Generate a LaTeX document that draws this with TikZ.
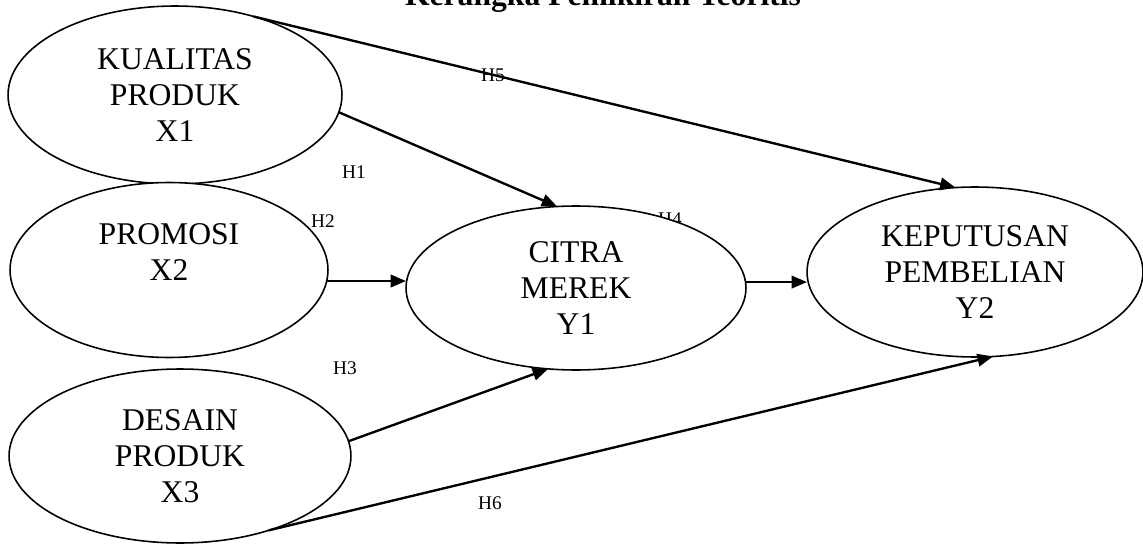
\documentclass[tikz,border=0pt]{standalone}
\usepackage{fontspec}
\setmainfont{Liberation Serif}
\usetikzlibrary{arrows.meta,shapes.geometric}

\begin{document}
\begin{tikzpicture}[x=0.02cm,y=-0.02cm,
    every node/.style={inner sep=0pt,outer sep=0pt},
    var/.style={draw,ellipse,fill=white,line width=0.9pt,align=center,
      font=\fontsize{18}{20.5}\selectfont},
    hlabel/.style={font=\fontsize{11}{13}\selectfont},
    arr/.style={line width=1.35pt,-{Triangle[length=0.31cm,width=0.25cm]}}]
  \useasboundingbox (0,0) rectangle (1143,544);
  \node[font=\fontsize{18}{21}\selectfont\bfseries,anchor=base] (title) at (603,6) {Kerangka Pemikiran Teoritis};
  % labels first, Y1 hides the lower half of H4
  \foreach \h/\x/\y in {H1/354/172,H2/323/221,H3/345/368,H4/670/219,H5/493/75,H6/490/503}
    \node[hlabel] (\h) at (\x,\y) {\h};
  \node[var,minimum width=6.68cm,minimum height=3.56cm] (x1) at (175,95) {KUALITAS\\PRODUK\\X1};
  \node[var,minimum width=6.36cm,minimum height=3.5cm] (x2) at (169,270) {PROMOSI\\X2\\\mbox{}};
  \node[var,minimum width=6.84cm,minimum height=3.48cm] (x3) at (180,456) {DESAIN\\PRODUK\\X3};
  \node[var,minimum width=6.8cm,minimum height=3.28cm] (y1) at (576,288) {CITRA\\MEREK\\Y1};
  \node[var,minimum width=6.72cm,minimum height=3.4cm] (y2) at (975,272) {KEPUTUSAN\\PEMBELIAN\\Y2};
  \draw[arr] (x1.45) -- (y2.103);
  \draw[arr] (x1.-6) -- (y1.103);
  \draw[arr] (x2.-4) -- (x2.-4 -| y1.west);
  \draw[arr] (x3.5) -- (y1.-109);
  \draw[arr] (y1.2) -- (y1.2 -| y2.west);
  \draw[arr] (x3.-40) -- (y2.-78);
\end{tikzpicture}
\end{document}
